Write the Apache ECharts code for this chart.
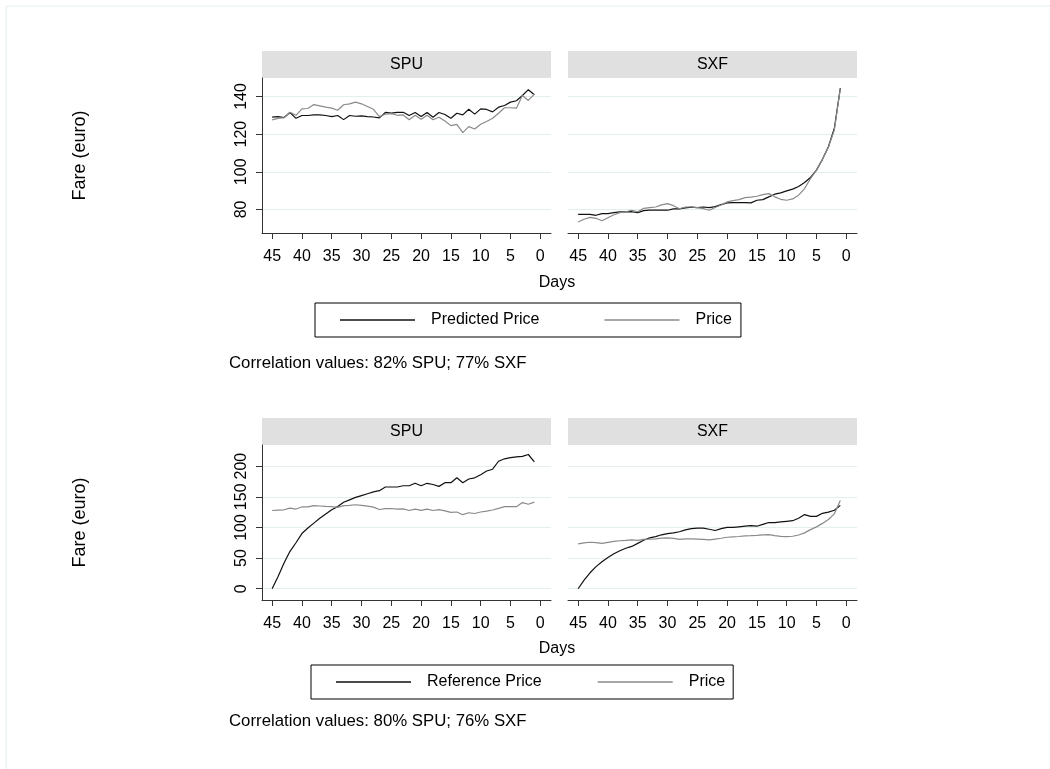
<!DOCTYPE html>
<html><head><meta charset="utf-8">
<script src="https://cdn.jsdelivr.net/npm/echarts@6/dist/echarts.min.js"></script>
<style>html,body{margin:0;padding:0;background:#fff}#c{width:1050px;height:769px}</style>
</head><body><div id="c"></div>
<script>
// ---------- data ----------
const days = [45,44,43,42,41,40,39,38,37,36,35,34,33,32,31,30,29,28,27,26,25,24,23,22,21,20,19,18,17,16,15,14,13,12,11,10,9,8,7,6,5,4,3,2,1];
const xTicks = [0,5,10,15,20,25,30,35,40,45];
const topYTicks = [80,100,120,140];
const botYTicks = [0,50,100,150,200];
const panels = ['SPU','SXF'];
const topLegend = ['Predicted Price','Price'];
const botLegend = ['Reference Price','Price'];
const topNote = 'Correlation values: 82% SPU; 77% SXF';
const botNote = 'Correlation values: 80% SPU; 76% SXF';
const yTitle = 'Fare (euro)';
const xTitle = 'Days';

const spuPredicted = [129.0,129.3,128.8,131.5,128.4,129.9,129.9,130.2,130.2,129.9,129.3,129.9,127.7,129.9,129.5,129.7,129.3,129.1,128.6,131.5,131.1,131.5,131.6,129.9,131.5,129.3,131.5,129.0,131.5,130.4,128.4,131.1,130.2,133.2,130.6,133.4,133.1,131.8,134.3,135.2,137.0,137.7,140.5,143.6,140.9];
const spuPrice = [127.6,128.4,128.8,131.6,130.0,133.4,133.6,135.7,135.0,134.3,133.8,132.7,135.6,136.1,137.0,136.1,134.7,133.2,129.3,130.6,130.9,130.0,130.2,127.6,130.0,127.9,130.0,127.6,129.0,127.0,124.5,125.2,120.8,124.0,122.7,125.2,126.7,128.4,131.1,134.0,134.0,133.8,140.5,137.9,141.2];
const sxfPredicted = [77.4,77.4,77.4,76.9,77.8,77.8,78.3,78.7,78.7,78.8,78.3,79.4,79.6,79.6,79.7,79.6,80.3,80.3,80.8,81.2,81.0,81.3,81.0,81.5,82.6,83.5,83.6,83.6,83.6,83.5,84.9,85.2,86.7,88.1,88.8,89.9,90.8,92.2,94.3,97.0,100.9,106.6,113.3,123.1,144.4];
const sxfPrice = [73.3,74.8,75.8,75.3,74.0,75.6,77.2,78.3,78.8,79.6,78.8,80.6,81.0,81.3,82.4,83.1,82.0,80.4,81.3,81.3,81.0,80.4,79.6,81.0,82.4,84.0,84.7,85.2,86.3,86.5,87.0,87.9,88.4,86.7,85.4,84.9,85.6,87.6,91.1,96.4,100.9,106.6,113.0,122.2,144.1];
const spuReference = [0,20,42,61,75,90,99,107,115,122,129,134,141,145,149,152,155,158,160,166,166,166,168,168,172,168,172,170,167,173,173,181,173,179,181,186,192,195,208,212,214,215,216,219,207];
const sxfReference = [0,14,26,36,44,51,57,62,66,69,74,79,83,85,88,90,91,93,96,98,99,99,97,95,98,100,100,101,102,103,102,105,108,108,109,110,111,115,121,118,118,123,125,128,136];

// ---------- layout / style ----------
const FONT = 'Liberation Sans, Arial, sans-serif';
const BLACK = '#111111', GRAY = '#8a8a8a', AXIS = '#333333', GRID = '#e4edf0', STRIP = '#e0e0e0';
const PW = 289, PH = 155;
const grids = [
  {left:262, top:78}, {left:568, top:78},
  {left:262, top:445}, {left:568, top:445}
].map(g => ({left:g.left, top:g.top, width:PW, height:PH, containLabel:false}));
const yRanges = [[67.5,149.8],[67.5,149.8],[-18.4,234.5],[-18.4,234.5]];
const yTickSets = [topYTicks, topYTicks, botYTicks, botYTicks];

const xAxes = grids.map((g,i) => ({
  type:'value', gridIndex:i, inverse:true, min:-1.8, max:46.7,
  axisLine:{show:true, onZero:false, lineStyle:{color:AXIS, width:1}},
  axisTick:{show:true, length:6, customValues:xTicks, lineStyle:{color:AXIS}},
  axisLabel:{show:true, customValues:xTicks, fontSize:16, color:'#000', fontFamily:FONT, margin:16},
  splitLine:{show:false}
}));
const yAxes = grids.map((g,i) => {
  const isLeft = i % 2 === 0;
  return {
    type:'value', gridIndex:i, min:yRanges[i][0], max:yRanges[i][1],
    axisLine:{show:isLeft, onZero:false, lineStyle:{color:AXIS, width:1}},
    axisTick:{show:isLeft, length:6, customValues:yTickSets[i], lineStyle:{color:AXIS}},
    axisLabel:{show:isLeft, customValues:yTickSets[i], rotate:90, fontSize:16, color:'#000', fontFamily:FONT, margin:12},
    splitLine:{show:true, lineStyle:{color:GRID, width:1}}
  };
});

function pairs(vals){ return days.map((d,k) => [d, vals[k]]); }
function line(name, vals, idx, color){
  return {type:'line', name, data:pairs(vals), xAxisIndex:idx, yAxisIndex:idx,
    showSymbol:false, symbol:'none', lineStyle:{color, width:1.2}, itemStyle:{color}, silent:true, animation:false};
}
const series = [
  line(topLegend[0], spuPredicted, 0, BLACK), line(topLegend[1], spuPrice, 0, GRAY),
  line(topLegend[0], sxfPredicted, 1, BLACK), line(topLegend[1], sxfPrice, 1, GRAY),
  line(botLegend[0], spuReference, 2, BLACK), line(botLegend[1], spuPrice, 2, GRAY),
  line(botLegend[0], sxfReference, 3, BLACK), line(botLegend[1], sxfPrice, 3, GRAY)
];

const legendBase = {
  orient:'horizontal', icon:'rect', itemWidth:75, itemHeight:1.6,
  borderColor:'#000', borderWidth:1, borderRadius:0, backgroundColor:'#fff',
  textStyle:{fontSize:16, color:'#000', fontFamily:FONT, padding:[0,0,0,11]},
  selectedMode:false
};
const legends = [
  Object.assign({}, legendBase, {data:topLegend, left:315, top:303, itemGap:65, padding:[9,9,9,25]}),
  Object.assign({}, legendBase, {data:botLegend, left:311, top:665, itemGap:56, padding:[9,8,9,25]})
];

const graphics = [
  {type:'rect', shape:{x:6, y:6, width:1100, height:900}, style:{fill:'none', stroke:'#e3edf0', lineWidth:1}, silent:true}
];
grids.forEach((g,i) => {
  graphics.push({type:'rect', shape:{x:g.left, y:g.top-27, width:PW, height:27}, style:{fill:STRIP}, silent:true});
  graphics.push({type:'text', x:g.left+PW/2, y:g.top-13, style:{text:panels[i%2], fill:'#000', font:'16px '+FONT, align:'center', verticalAlign:'middle'}, silent:true});
});
[[155.5, 283, 363, topNote],[522.5, 649, 721, botNote]].forEach(([yc, dy, ny, note]) => {
  graphics.push({type:'text', x:80, y:yc, rotation:Math.PI/2, style:{text:yTitle, font:'18px '+FONT, fill:'#000', align:'center', verticalAlign:'middle'}, silent:true});
  graphics.push({type:'text', x:557, y:dy, style:{text:xTitle, font:'16px '+FONT, fill:'#000', align:'center', verticalAlign:'middle'}, silent:true});
  graphics.push({type:'text', x:229, y:ny, style:{text:note, font:'16.8px '+FONT, fill:'#000', align:'left', verticalAlign:'middle'}, silent:true});
});

const chart = echarts.init(document.getElementById('c'), null, {renderer:'canvas'});
chart.setOption({
  backgroundColor:'#fff', animation:false,
  grid:grids, xAxis:xAxes, yAxis:yAxes, series, legend:legends, graphic:graphics
});
</script></body></html>
